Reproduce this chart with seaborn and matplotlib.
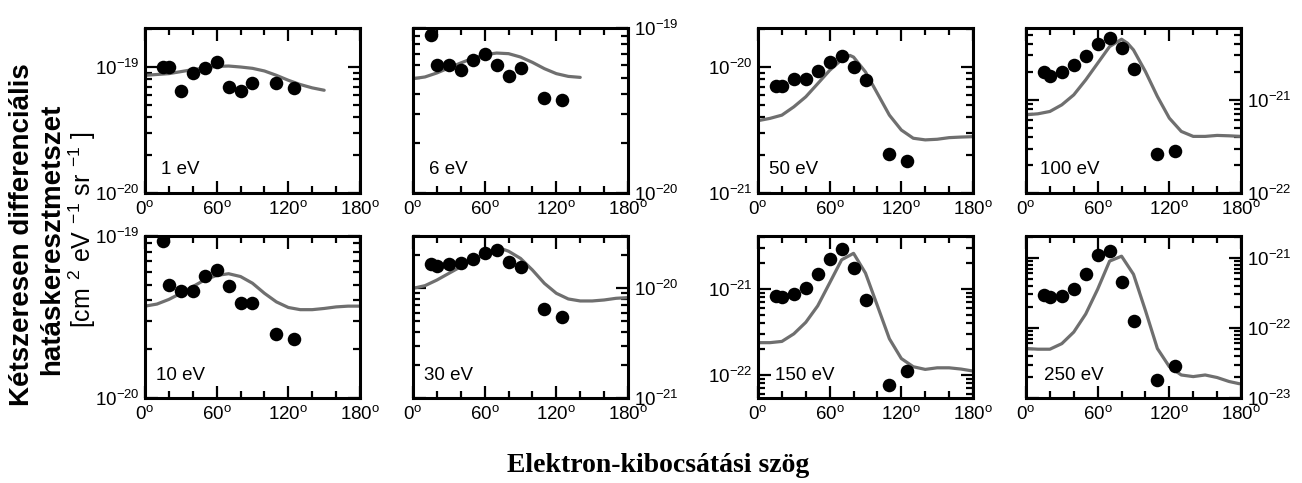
import numpy as np
import pandas as pd
import matplotlib
matplotlib.use("Agg")
import matplotlib.pyplot as plt
import seaborn as sns
from matplotlib.ticker import MultipleLocator, LogLocator, FuncFormatter, NullFormatter

# ---------------- data ----------------
exp_angles = [15, 20, 30, 40, 50, 60, 70, 80, 90, 110, 125]
step10 = [0, 10, 20, 30, 40, 50, 60, 70, 80, 90, 100, 110, 120, 130, 140, 150, 160, 170, 180]

energies = ["1 eV", "6 eV", "50 eV", "100 eV", "10 eV", "30 eV", "150 eV", "250 eV"]

exp_1eV = [1.00e-19, 1.00e-19, 0.647e-19, 0.897e-19, 0.988e-19, 1.095e-19, 0.695e-19, 0.647e-19, 0.747e-19, 0.747e-19, 0.679e-19]
th_1eV_ang = [0, 20, 40, 60, 70, 80, 90, 100, 110, 120, 130, 140, 150]
th_1eV = [0.859e-19, 0.886e-19, 0.953e-19, 1.012e-19, 1.018e-19, 1.0e-19, 0.976e-19, 0.930e-19, 0.859e-19, 0.785e-19, 0.726e-19, 0.683e-19, 0.654e-19]

exp_6eV = [0.911e-19, 0.597e-19, 0.597e-19, 0.554e-19, 0.643e-19, 0.699e-19, 0.597e-19, 0.514e-19, 0.570e-19, 0.376e-19, 0.368e-19]
th_6eV_ang = [0, 10, 20, 30, 40, 50, 60, 70, 80, 90, 100, 110, 120, 130, 140]
th_6eV = [0.493e-19, 0.505e-19, 0.534e-19, 0.573e-19, 0.614e-19, 0.655e-19, 0.689e-19, 0.705e-19, 0.699e-19, 0.667e-19, 0.619e-19, 0.567e-19, 0.529e-19, 0.509e-19, 0.502e-19]

exp_50eV = [0.712e-20, 0.712e-20, 0.809e-20, 0.809e-20, 0.930e-20, 1.095e-20, 1.214e-20, 1.0e-20, 0.794e-20, 0.205e-20, 0.180e-20]
th_50eV_ang = [0, 10, 20, 30, 40, 50, 60, 70, 77, 80, 90, 100, 110, 120, 130, 140, 150, 160, 170, 180]
th_50eV = [0.375e-20, 0.391e-20, 0.415e-20, 0.483e-20, 0.580e-20, 0.738e-20, 0.941e-20, 1.142e-20, 1.236e-20, 1.199e-20, 0.913e-20, 0.616e-20, 0.415e-20, 0.316e-20, 0.272e-20, 0.264e-20, 0.267e-20, 0.275e-20, 0.278e-20, 0.280e-20]

exp_100eV = [2.01e-21, 1.78e-21, 2.01e-21, 2.37e-21, 2.96e-21, 3.95e-21, 4.58e-21, 3.58e-21, 2.15e-21, 0.262e-21, 0.284e-21]
th_100eV_ang = [0, 10, 20, 30, 40, 50, 60, 70, 80, 85, 90, 100, 110, 120, 130, 140, 150, 160, 170, 180]
th_100eV = [0.691e-21, 0.708e-21, 0.750e-21, 0.884e-21, 1.131e-21, 1.637e-21, 2.47e-21, 3.73e-21, 4.47e-21, 4.05e-21, 3.43e-21, 2.01e-21, 1.086e-21, 0.636e-21, 0.458e-21, 0.405e-21, 0.405e-21, 0.415e-21, 0.411e-21, 0.405e-21]

exp_10eV = [0.931e-19, 0.499e-19, 0.460e-19, 0.457e-19, 0.568e-19, 0.619e-19, 0.492e-19, 0.387e-19, 0.387e-19, 0.249e-19, 0.232e-19]
th_10eV_ang = step10
th_10eV = [0.369e-19, 0.380e-19, 0.406e-19, 0.443e-19, 0.487e-19, 0.536e-19, 0.571e-19, 0.585e-19, 0.562e-19, 0.511e-19, 0.443e-19, 0.392e-19, 0.362e-19, 0.351e-19, 0.351e-19, 0.357e-19, 0.365e-19, 0.369e-19, 0.369e-19]

exp_30eV = [1.65e-20, 1.61e-20, 1.65e-20, 1.69e-20, 1.87e-20, 2.08e-20, 2.23e-20, 1.75e-20, 1.55e-20, 0.649e-20, 0.552e-20]
th_30eV_ang = [0, 10, 20, 30, 40, 50, 60, 70, 75, 80, 90, 100, 110, 120, 130, 140, 150, 160, 170, 180]
th_30eV = [1.0e-20, 1.057e-20, 1.19e-20, 1.369e-20, 1.574e-20, 1.809e-20, 2.037e-20, 2.23e-20, 2.28e-20, 2.18e-20, 1.875e-20, 1.468e-20, 1.11e-20, 0.901e-20, 0.800e-20, 0.767e-20, 0.767e-20, 0.783e-20, 0.811e-20, 0.823e-20]

exp_150eV = [0.824e-21, 0.810e-21, 0.861e-21, 1.03e-21, 1.50e-21, 2.23e-21, 2.87e-21, 1.74e-21, 0.742e-21, 0.0768e-21, 0.112e-21]
th_150eV_ang = step10
th_150eV = [0.237e-21, 0.237e-21, 0.245e-21, 0.300e-21, 0.408e-21, 0.634e-21, 1.17e-21, 2.17e-21, 2.58e-21, 1.52e-21, 0.634e-21, 0.263e-21, 0.155e-21, 0.1245e-21, 0.116e-21, 0.121e-21, 0.121e-21, 0.117e-21, 0.111e-21]

exp_250eV = [0.294e-21, 0.272e-21, 0.288e-21, 0.365e-21, 0.594e-21, 1.11e-21, 1.24e-21, 0.453e-21, 0.124e-21, 0.0178e-21, 0.0289e-21]
th_250eV_ang = step10
th_250eV = [0.0508e-21, 0.0497e-21, 0.0497e-21, 0.0597e-21, 0.0873e-21, 0.158e-21, 0.357e-21, 0.898e-21, 1.056e-21, 0.582e-21, 0.177e-21, 0.0508e-21, 0.0280e-21, 0.0213e-21, 0.0202e-21, 0.0213e-21, 0.0196e-21, 0.0172e-21, 0.0158e-21]

exp_all = [exp_1eV, exp_6eV, exp_50eV, exp_100eV, exp_10eV, exp_30eV, exp_150eV, exp_250eV]
th_ang_all = [th_1eV_ang, th_6eV_ang, th_50eV_ang, th_100eV_ang, th_10eV_ang, th_30eV_ang, th_150eV_ang, th_250eV_ang]
th_all = [th_1eV, th_6eV, th_50eV, th_100eV, th_10eV, th_30eV, th_150eV, th_250eV]

ylims = [(1e-20, 2.04e-19), (1e-20, 1e-19), (1e-21, 2.04e-20), (1e-22, 5.9e-21),
         (1e-20, 1e-19), (1e-21, 3.0e-20), (5.4e-23, 4.1e-21), (1e-23, 2.05e-21)]
label_right = [False, True, False, True, False, True, False, True]

x_label = "Elektron-kibocsátási szög"
y_label_1 = "Kétszeresen differenciális"
y_label_2 = "hatáskeresztmetszet"
y_label_3 = r"[cm$\ {}^{2}$ eV$\ {}^{-1}$ sr$\ {}^{-1}$ ]"

# ---------------- style ----------------
sns.set_style("ticks")
plt.rcParams["font.family"] = ["Liberation Sans", "DejaVu Sans"]
plt.rcParams["mathtext.default"] = "regular"
plt.rcParams["text.color"] = "black"
plt.rcParams["xtick.color"] = "black"
plt.rcParams["ytick.color"] = "black"

W, H = 1302, 483
fig = plt.figure(figsize=(W / 100, H / 100), dpi=100)

col_x = [145, 413, 758, 1026]
row_y = [(28, 193), (236, 398)]
pw = 215

line_color = "#6f6f6f"
text_x = [0.075, 0.075, 0.05, 0.065, 0.05, 0.05, 0.08, 0.085]

for i in range(8):
    r, c = divmod(i, 4)
    top, bot = row_y[r]
    ax = fig.add_axes([col_x[c] / W, 1 - bot / H, pw / W, (bot - top) / H])
    ax.set_yscale("log")

    dth = pd.DataFrame({"angle": th_ang_all[i], "dcs": th_all[i]})
    dex = pd.DataFrame({"angle": exp_angles, "dcs": exp_all[i]})
    sns.lineplot(data=dth, x="angle", y="dcs", color=line_color, lw=2.3, ax=ax, zorder=2)
    sns.scatterplot(data=dex, x="angle", y="dcs", color="black", s=95, linewidth=0, ax=ax, zorder=3)

    ax.set_xlim(0, 180)
    ax.set_ylim(*ylims[i])
    ax.set_xlabel("")
    ax.set_ylabel("")

    ax.xaxis.set_major_locator(MultipleLocator(60))
    ax.xaxis.set_minor_locator(MultipleLocator(20))
    ax.xaxis.set_major_formatter(FuncFormatter(lambda v, p: "%d$^{o}$" % int(round(v))))
    ax.yaxis.set_major_locator(LogLocator(base=10, numticks=10))
    ax.yaxis.set_minor_locator(LogLocator(base=10, subs=np.arange(2, 10), numticks=20))
    ax.yaxis.set_major_formatter(FuncFormatter(lambda v, p: "$10^{%d}$" % int(round(np.log10(v)))))
    ax.yaxis.set_minor_formatter(NullFormatter())

    ax.tick_params(which="both", direction="in", top=True, bottom=True, left=True, right=True,
                   width=1.6, colors="black", labelcolor="black", labelsize=13.5)
    ax.tick_params(which="major", length=9)
    ax.tick_params(which="minor", length=5)
    ax.tick_params(axis="x", which="major", pad=5)
    ax.tick_params(axis="y", which="major", pad=4, labelleft=not label_right[i], labelright=label_right[i])
    for s in ax.spines.values():
        s.set_linewidth(2.2)
        s.set_color("black")

    ax.text(text_x[i], 0.14, energies[i], transform=ax.transAxes, ha="left", va="center",
            fontsize=13.5, color="black")

fig.text(22 / W, 1 - 235 / H, y_label_1, rotation=90, ha="center", va="center",
         fontsize=20, fontweight="bold", color="black")
fig.text(52 / W, 1 - 239 / H, y_label_2, rotation=90, ha="center", va="center",
         fontsize=20, fontweight="bold", color="black")
fig.text(82 / W, 1 - 230 / H, y_label_3, rotation=90, ha="center", va="center",
         fontsize=18, color="black")
fig.text(658 / W, 1 - 465 / H, x_label, ha="center", va="center",
         fontsize=20, fontweight="bold", family=["Liberation Serif", "DejaVu Serif"], color="black")

fig.savefig("out.png", dpi=100, facecolor="white")
